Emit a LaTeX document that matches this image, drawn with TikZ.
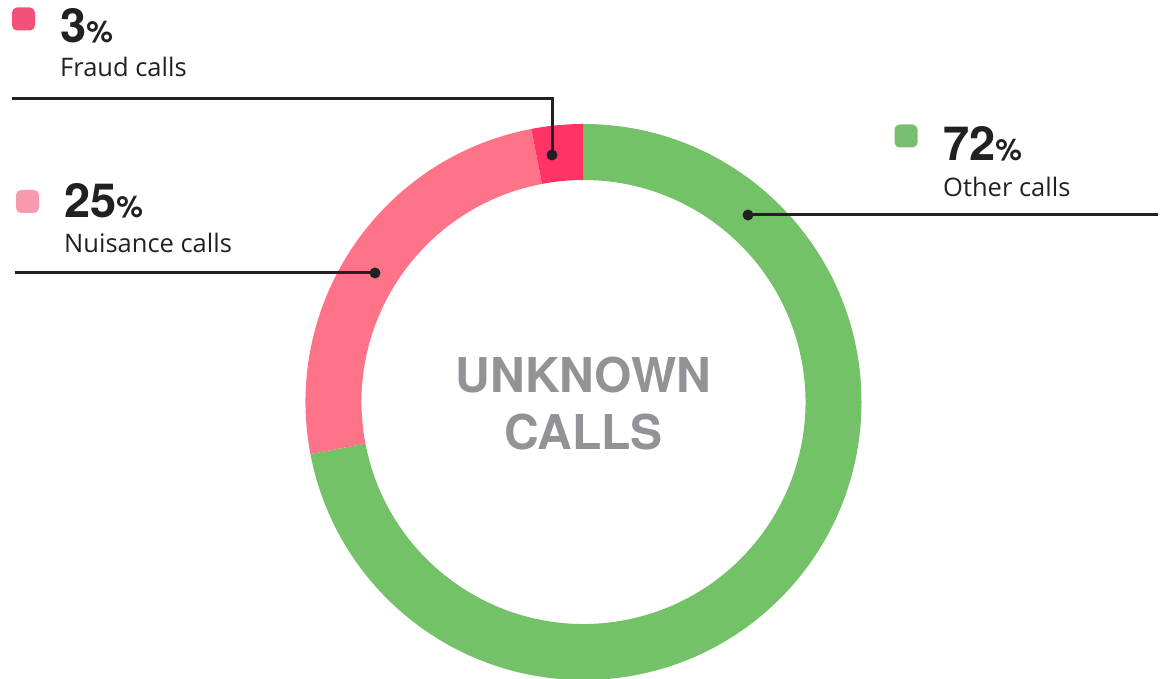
\documentclass[tikz,border=0pt]{standalone}
\usepackage{fontspec}
\setmainfont{Open Sans}
\newfontfamily\grotesk{TeX Gyre Heros}
\definecolor{othergreen}{RGB}{116,194,103}
\definecolor{nuisancepink}{RGB}{255,115,137}
\definecolor{fraudred}{RGB}{255,51,102}
\definecolor{swgreen}{RGB}{121,191,112}
\definecolor{swpink}{RGB}{247,154,174}
\definecolor{swred}{RGB}{242,82,122}
\definecolor{inkdark}{RGB}{34,32,34}
\definecolor{centergrey}{RGB}{146,147,150}
\usetikzlibrary{positioning}

\tikzset{
  swatch/.style={rounded corners=5pt, minimum size=23pt, inner sep=0pt},
  pct/.style={anchor=base west, inner sep=0pt, text=inkdark, font=\grotesk\bfseries\fontsize{47}{47}\selectfont},
  desc/.style={anchor=base west, inner sep=0pt, text=inkdark, font=\fontsize{25.5}{30}\selectfont},
  leader/.style={draw=inkdark, line width=3pt},
}
\newcommand{\pctsign}{{\fontsize{30}{30}\selectfont\%}}

\begin{document}
\begin{tikzpicture}[x=1pt, y=1pt]
  \useasboundingbox (0,0) rectangle (1163,679);

  % ring
  \begin{scope}[shift={(583.5,277)}]
    \fill[othergreen] (90:278) arc[start angle=90, end angle=-169.2, radius=278]
      -- (-169.2:222) arc[start angle=-169.2, end angle=90, radius=222] -- cycle;
    \fill[nuisancepink] (190.8:278) arc[start angle=190.8, end angle=100.8, radius=278]
      -- (100.8:222) arc[start angle=100.8, end angle=190.8, radius=222] -- cycle;
    \fill[fraudred] (100.8:278) arc[start angle=100.8, end angle=90, radius=278]
      -- (90:222) arc[start angle=90, end angle=100.8, radius=222] -- cycle;
  \end{scope}

  \node[anchor=base, align=center, inner sep=0pt, text=centergrey,
        font=\grotesk\bfseries\fontsize{48}{57}\selectfont] (center) at (583.5,229) {UNKNOWN\\CALLS};

  % legend
  \node[swatch, fill=swred] (fraudsw) at (23.5,660) {};
  \node[pct] (fraudpct) at (60,636) {3\pctsign};
  \node[desc] (fraudlbl) at (60,602) {Fraud calls};

  \node[swatch, fill=swpink] (nuisancesw) at (27.5,477.5) {};
  \node[pct] (nuisancepct) at (64,461) {25\pctsign};
  \node[desc] (nuisancelbl) at (64,426) {Nuisance calls};

  \node[swatch, fill=swgreen] (othersw) at (906,543) {};
  \node[pct] (otherpct) at (943,518) {72\pctsign};
  \node[desc] (otherlbl) at (943,482) {Other calls};

  % leaders
  \coordinate (frauddot) at (552,524);
  \coordinate (fraudbend) at (552,580);
  \coordinate (fraudend) at (12,580);
  \draw[leader] (frauddot) -- (fraudbend) -- (fraudend);
  \fill[inkdark] (frauddot) circle (5.5);

  \coordinate (nuisancedot) at (375,406);
  \coordinate (nuisanceend) at (15,406);
  \draw[leader] (nuisancedot) -- (nuisanceend);
  \fill[inkdark] (nuisancedot) circle (5.5);

  \coordinate (otherdot) at (748,464);
  \coordinate (otherend) at (1158,464);
  \draw[leader] (otherdot) -- (otherend);
  \fill[inkdark] (otherdot) circle (5.5);
\end{tikzpicture}
\end{document}
